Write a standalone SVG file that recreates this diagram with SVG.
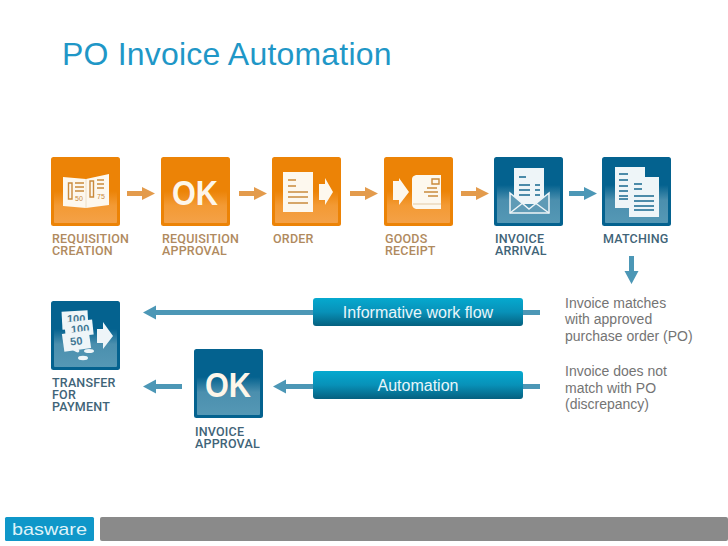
<svg xmlns="http://www.w3.org/2000/svg" width="728" height="546" viewBox="0 0 728 546">
<style>
.t{font-family:"Liberation Sans",Arial,sans-serif}
.title{font-size:32px;fill:#1f97c7;letter-spacing:.2px}
.lab{font-family:"Roboto","Liberation Sans",sans-serif;font-weight:500;font-size:12.5px;letter-spacing:.2px}
.o{fill:#b08a5e}.b{fill:#3f6478}
.side{font-size:14px;fill:#747474}
.bar{font-size:16px;fill:#e9f6fa;text-anchor:middle}
.ok{font-family:"Liberation Sans",sans-serif;font-weight:700;font-size:35px;fill:#fdf6ea}
.paper{fill:#fdf8ee}.paperb{fill:#eef5f8}
.ol{stroke:#c98a3c;stroke-width:1.4;fill:none}.bl{stroke:#17688f;stroke-width:1.7;fill:none}
.mo{font-family:"Liberation Sans",sans-serif;font-size:7px;fill:#c98a3c}
.mb{font-family:"Liberation Sans",sans-serif;font-weight:700;font-size:11px;fill:#3f7794}
</style>
<defs>
<linearGradient id="og" x1="0" y1="0" x2="0" y2="1"><stop offset="0" stop-color="#ec8306"/><stop offset=".45" stop-color="#f39a34"/><stop offset="1" stop-color="#f4a147"/></linearGradient>
<linearGradient id="bg" x1="0" y1="0" x2="0" y2="1"><stop offset="0" stop-color="#04628f"/><stop offset=".4" stop-color="#4b8fae"/><stop offset="1" stop-color="#5598b5"/></linearGradient>
<linearGradient id="barg" x1="0" y1="0" x2="0" y2="1"><stop offset="0" stop-color="#05a9cf"/><stop offset=".5" stop-color="#0891b8"/><stop offset="1" stop-color="#05607f"/></linearGradient>
<symbol id="tileO" viewBox="0 0 69 69" width="69" height="69"><rect width="69" height="69" rx="2.5" fill="#ec8306"/><rect x="3" y="34" width="63" height="32" rx="1" fill="url(#og)"/></symbol>
<symbol id="tileB" viewBox="0 0 69 69" width="69" height="69"><rect width="69" height="69" rx="2.5" fill="#04628f"/><rect x="3" y="28" width="63" height="38" rx="1" fill="url(#bg)"/></symbol>
</defs>

<rect width="728" height="546" fill="#fff"/>
<text class="t title" x="62" y="65">PO Invoice Automation</text>

<g id="connectors">
<g fill="#e39b4c">
<path d="M127 191H142V187L155 193.500L142 200V196H127Z"/>
<path d="M239 191H254V187L267 193.500L254 200V196H239Z"/>
<path d="M350 191H365V187L378 193.500L365 200V196H350Z"/>
<path d="M461 191H476V187L489 193.500L476 200V196H461Z"/>
</g>
<g fill="#4c97b6">
<path d="M569 191H584V187L597 193.500L584 200V196H569Z"/>
<path d="M629 256H634V271H638.500L631.500 284L624.500 271H629Z"/>
<path d="M540 310V315H156V319.500L143 312.500L156 305.500V310Z"/>
<path d="M182 384V389H156V393.500L143 386.500L156 379.500V384Z"/>
<path d="M540 384V389H286V393.500L273 386.500L286 379.500V384Z"/>
</g>
</g>

<g id="requisition-creation">
<use href="#tileO" x="51" y="157"/>
<path class="paper" d="M63 177L86 179L109 174V205L86 208L63 206Z"/>
<path d="M86 179V208" stroke="#e8d8bc" stroke-width=".8"/>
<path class="ol" d="M68.500 183h3.500v16h-3.500zM90 181h3.500v16h-3.500zM75 183h9M75 187h9M75 191h9M97 180h7M97 184h7M97 188h7"/>
<text class="mo" x="75" y="201">50</text><text class="mo" x="97" y="199">75</text>
<text class="lab o" x="52"><tspan x="52" y="243">REQUISITION</tspan><tspan x="52" y="255">CREATION</tspan></text>
</g>

<g id="requisition-approval">
<use href="#tileO" x="161" y="157"/>
<text class="ok" x="172" y="205" textLength="46" lengthAdjust="spacingAndGlyphs">OK</text>
<text class="lab o"><tspan x="162" y="243">REQUISITION</tspan><tspan x="162" y="255">APPROVAL</tspan></text>
</g>

<g id="order">
<use href="#tileO" x="272" y="157"/>
<rect class="paper" x="283" y="172" width="30" height="40"/>
<path class="ol" d="M288 180h8M288 186h8M288 192h20M288 197h20M288 203h20"/>
<path class="paper" d="M319 184H325V178L333 192L325 205V200H319Z"/>
<text class="lab o" x="273" y="243">ORDER</text>
</g>

<g id="goods-receipt">
<use href="#tileO" x="384" y="157"/>
<path class="paper" d="M393 181H399V178L409 192L399 205V200H393Z"/>
<path class="paper" d="M416 175H441V209H416Q412 208 412 204V179Q412 176 416 175Z"/>
<path d="M413 204H441" stroke="#e2c9a4" stroke-width="1"/>
<path class="ol" d="M432 179h7v5h-7zM427 188h10M424 192h14M428 196h10"/>
<text class="lab o"><tspan x="385" y="243">GOODS</tspan><tspan x="385" y="255">RECEIPT</tspan></text>
</g>

<g id="invoice-arrival">
<use href="#tileB" x="494" y="157"/>
<rect class="paperb" x="514" y="168" width="30" height="36"/>
<path class="bl" d="M519 177h7M519 185h11M519 190h11M519 195h11M535 185h5M535 190h5M535 195h5"/>
<path d="M510 193L529 209L549 193V213H510Z" fill="#5f9bb6" stroke="#eef5f8" stroke-width="1.500"/>
<path d="M510 213L524 202M549 213L534 202" stroke="#eef5f8" stroke-width="1.500"/>
<text class="lab b"><tspan x="495" y="243">INVOICE</tspan><tspan x="495" y="255">ARRIVAL</tspan></text>
</g>

<g id="matching">
<use href="#tileB" x="602" y="157"/>
<rect class="paperb" x="615" y="167" width="30" height="41"/>
<rect class="paperb" x="629" y="177" width="30" height="40"/>
<path class="bl" d="M619 174h9M619 180h9M619 186h9M619 191h9M619 196h9M619 199h9M634 184h8M634 189h8M634 196h20M634 201h20M634 206h20M634 210h20"/>
<text class="lab b" x="603" y="243">MATCHING</text>
</g>

<g id="transfer-for-payment">
<use href="#tileB" x="51" y="301"/>
<rect class="paperb" x="62" y="311" width="26" height="18" transform="rotate(-3 75 320)"/>
<text class="mb" x="67" y="323">100</text>
<rect class="paperb" x="65" y="321" width="28" height="15" transform="rotate(-6 79 329)"/>
<text class="mb" x="71" y="333" transform="rotate(-4 79 330)">100</text>
<rect class="paperb" x="63" y="332" width="27" height="18" transform="rotate(-8 77 341)"/>
<text class="mb" x="70" y="345" font-size="12" transform="rotate(-6 76 340)">50</text>
<path class="paperb" d="M97 329H103V322L113 336L103 349V343H97Z"/>
<g fill="#eef5f8"><ellipse cx="75" cy="349" rx="5" ry="2" transform="rotate(35 75 349)"/><ellipse cx="89" cy="351" rx="5" ry="2"/><ellipse cx="83" cy="358" rx="5" ry="2.200"/></g>
<text class="lab b"><tspan x="52" y="387">TRANSFER</tspan><tspan x="52" y="399">FOR</tspan><tspan x="52" y="411">PAYMENT</tspan></text>
</g>

<g id="invoice-approval">
<use href="#tileB" x="194" y="349"/>
<text class="ok" x="205" y="397" textLength="46" lengthAdjust="spacingAndGlyphs" fill="#fff">OK</text>
<text class="lab b"><tspan x="195" y="436">INVOICE</tspan><tspan x="195" y="448">APPROVAL</tspan></text>
</g>

<g id="informative-work-flow">
<rect x="313" y="298" width="210" height="28" rx="3" fill="url(#barg)"/>
<text class="t bar" x="418" y="318">Informative work flow</text>
</g>
<g id="automation">
<rect x="313" y="371" width="210" height="28" rx="3" fill="url(#barg)"/>
<text class="t bar" x="418" y="391">Automation</text>
</g>

<g id="notes">
<text class="t side" x="565" y="308">Invoice matches</text>
<text class="t side" x="565" y="324">with approved</text>
<text class="t side" x="565" y="341">purchase order (PO)</text>
<text class="t side" x="565" y="376">Invoice does not</text>
<text class="t side" x="565" y="393">match with PO</text>
<text class="t side" x="565" y="409">(discrepancy)</text>
</g>

<g id="footer">
<rect x="5" y="517" width="89" height="24" rx="1.500" fill="#0f97c9"/>
<text class="t" x="12" y="535" font-size="17" fill="#dff3f9" textLength="75" lengthAdjust="spacingAndGlyphs">basware</text>
<rect x="100" y="517" width="628" height="24" rx="2" fill="#8a8a8a"/>
</g>
</svg>
